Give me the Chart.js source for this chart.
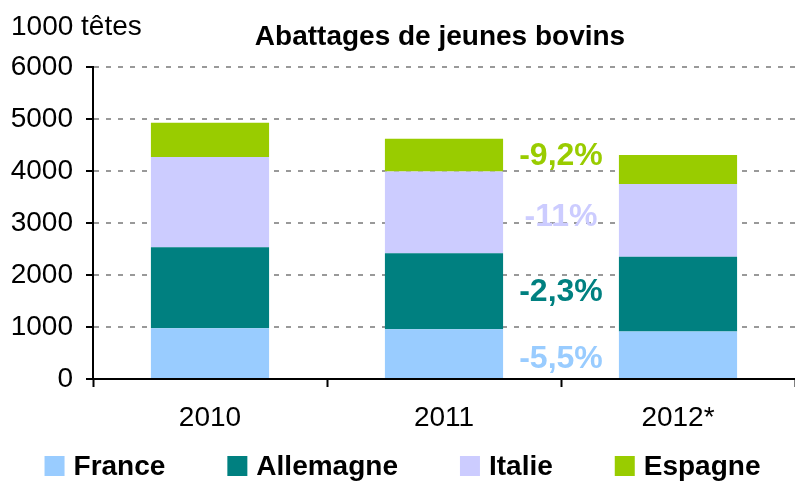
<!DOCTYPE html>
<html>
<head>
<meta charset="utf-8">
<script src="https://cdn.jsdelivr.net/npm/chart.js@4.4.1/dist/chart.umd.min.js"></script>
<style>
  html, body { margin: 0; padding: 0; background: #fff; }
</style>
</head>
<body>
<canvas id="chartAbattages" width="795" height="481"></canvas>
<script>
// --- donnees (1000 tetes) ---
const categories = ['2010', '2011', '2012*'];
const france = [975, 955, 915];
const allemagne = [1560, 1465, 1435];
const italie = [1735, 1570, 1400];
const espagne = [660, 630, 560];
const yTicks = [0, 1000, 2000, 3000, 4000, 5000, 6000];

// variations 2012/2011, placees entre les barres 2011 et 2012
const noteTexts = ['-5,5%', '-2,3%', '-11%', '-9,2%'];
const noteLevels = [375, 1670, 3110, 4290];

const COLORS = { france: '#99CCFF', allemagne: '#008080', italie: '#CCCCFF', espagne: '#99CC00', grid: '#999999' };
const FONT = 'Arial, "Liberation Sans", sans-serif';

// titre, unite, pourcentages et legende dessines par-dessus le graphique
const annotations = {
    id: 'annotations',
    afterDatasetsDraw(chart) {
        const { ctx, chartArea, scales, width } = chart;
        ctx.save();
        ctx.fillStyle = '#000';
        ctx.textBaseline = 'middle';

        ctx.font = '28px ' + FONT;
        ctx.textAlign = 'left';
        ctx.fillText('1000 têtes', 11, chartArea.top - 40);

        ctx.font = 'bold 28px ' + FONT;
        ctx.textAlign = 'center';
        ctx.fillText('Abattages de jeunes bovins', (chartArea.left + chartArea.right) / 2 - 4, chartArea.top - 30);

        const noteColors = [COLORS.france, COLORS.allemagne, COLORS.italie, COLORS.espagne];
        ctx.font = 'bold 32px ' + FONT;
        const x = scales.x.getPixelForValue(1.5);
        noteTexts.forEach((t, i) => {
            ctx.fillStyle = noteColors[i];
            ctx.fillText(t, x, scales.y.getPixelForValue(noteLevels[i]));
        });

        // legende : carre 20px, texte gras
        ctx.font = 'bold 28px ' + FONT;
        ctx.textAlign = 'left';
        const box = 20, gapText = 9, gapItem = 62;
        const items = chart.data.datasets.map(d => ({ text: d.label, color: d.backgroundColor, w: ctx.measureText(d.label).width }));
        const total = items.reduce((s, it) => s + box + gapText + it.w, 0) + gapItem * (items.length - 1);
        let lx = width / 2 + 5 - total / 2;
        const ly = chart.height - 15;
        items.forEach(it => {
            ctx.fillStyle = it.color;
            ctx.fillRect(lx, ly - box / 2, box, box);
            ctx.fillStyle = '#000';
            ctx.fillText(it.text, lx + box + gapText, ly + 1);
            lx += box + gapText + it.w + gapItem;
        });
        ctx.restore();
    }
};

const ds = (label, data, color) => ({
    label: label, data: data, backgroundColor: color,
    barPercentage: 0.505, categoryPercentage: 1
});

new Chart(document.getElementById('chartAbattages'), {
    type: 'bar',
    data: {
        labels: categories,
        datasets: [
            ds('France', france, COLORS.france),
            ds('Allemagne', allemagne, COLORS.allemagne),
            ds('Italie', italie, COLORS.italie),
            ds('Espagne', espagne, COLORS.espagne)
        ]
    },
    options: {
        responsive: false,
        animation: false,
        layout: { padding: { top: 67, right: 0, left: 0, bottom: 46 } },
        plugins: {
            title: { display: false },
            tooltip: { enabled: false },
            legend: { display: false }
        },
        scales: {
            x: {
                stacked: true,
                afterFit: (scale) => { scale.height = 56; },
                grid: { offset: true, drawOnChartArea: false, tickLength: 8, tickColor: '#000', tickWidth: 2 },
                border: { color: '#000', width: 2 },
                ticks: { color: '#000', font: { family: FONT, size: 28 }, padding: 14 }
            },
            y: {
                stacked: true,
                min: 0, max: 6000,
                afterBuildTicks: (scale) => { scale.ticks = yTicks.map(v => ({ value: v })); },
                afterFit: (scale) => { scale.width = 93; },
                grid: { color: COLORS.grid, lineWidth: 2, tickLength: 7, tickColor: '#000', tickWidth: 2 },
                border: { color: '#000', width: 2, dash: [5, 7] },
                ticks: { color: '#000', font: { family: FONT, size: 28 }, padding: 13, autoSkip: false, callback: v => String(v) }
            }
        }
    },
    plugins: [annotations]
});
</script>
</body>
</html>
